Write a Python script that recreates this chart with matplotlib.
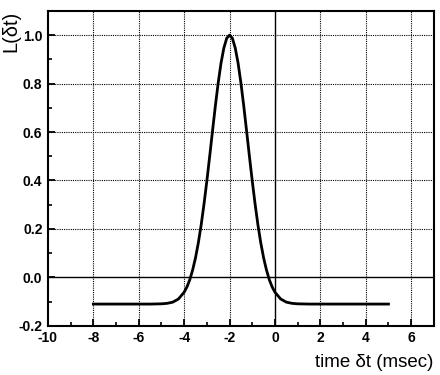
import numpy as np
import matplotlib
matplotlib.use("Agg")
from matplotlib import pyplot as plt
from matplotlib.ticker import MultipleLocator

# values
t = [-8.0, -7.0, -6.0, -5.5, -5.0, -4.75, -4.5, -4.25, -4.0, -3.875, -3.75,
     -3.625, -3.5, -3.375, -3.25, -3.125, -3.0, -2.875, -2.75, -2.625, -2.5,
     -2.375, -2.25, -2.125, -2.0, -1.875, -1.75, -1.625, -1.5, -1.375, -1.25,
     -1.125, -1.0, -0.875, -0.75, -0.625, -0.5, -0.375, -0.25, -0.125, 0.0,
     0.25, 0.5, 0.75, 1.0, 1.5, 2.0, 3.0, 4.0, 5.0]
L = [-0.11, -0.11, -0.11, -0.11, -0.109, -0.107, -0.102, -0.089, -0.061,
     -0.039, -0.009, 0.031, 0.081, 0.143, 0.217, 0.303, 0.398, 0.500, 0.605,
     0.708, 0.803, 0.885, 0.947, 0.987, 1.0, 0.987, 0.947, 0.885, 0.803,
     0.708, 0.605, 0.500, 0.398, 0.303, 0.217, 0.143, 0.081, 0.031, -0.009,
     -0.039, -0.061, -0.089, -0.102, -0.107, -0.109, -0.11, -0.11, -0.11,
     -0.11, -0.11]

xticks = [-10, -8, -6, -4, -2, 0, 2, 4, 6]
yticks = [-0.2, 0.0, 0.2, 0.4, 0.6, 0.8, 1.0]

fig = plt.figure(figsize=(4.4, 3.75), dpi=100)
ax = fig.add_axes([0.109, 0.131, 0.877, 0.840])

ax.set_xlim(-10, 7)
ax.set_ylim(-0.2, 1.1)

# grid: dotted, with solid lines through zero
for x in xticks[1:]:
    if x == 0:
        ax.axvline(x, color="black", lw=1.0)
    else:
        ax.axvline(x, color="black", lw=0.8, ls=(0, (1, 1)))
for y in yticks[1:]:
    if y == 0:
        ax.axhline(y, color="black", lw=1.0)
    else:
        ax.axhline(y, color="black", lw=0.8, ls=(0, (1, 1)))

ax.plot(t, L, color="black", lw=2.0)

ax.set_xticks(xticks)
ax.set_yticks(yticks)
ax.set_xticklabels([str(v) for v in xticks])
ax.set_yticklabels(["%.1f" % v for v in yticks])
ax.xaxis.set_minor_locator(MultipleLocator(1))
ax.yaxis.set_minor_locator(MultipleLocator(0.1))
ax.tick_params(which="major", direction="in", length=5, width=1.3,
               labelsize=10, pad=4)
ax.tick_params(which="minor", direction="in", length=3, width=1.2)
for lab in ax.get_xticklabels() + ax.get_yticklabels():
    lab.set_fontfamily("Liberation Sans")
    lab.set_fontweight("bold")
for s in ax.spines.values():
    s.set_linewidth(1.5)

fig.text(0.985, 0.01, "time δt (msec)", ha="right", va="bottom",
         fontsize=13.5, family="Liberation Sans")
fig.text(0.004, 0.862, "L(δt)", ha="left", va="bottom", rotation=90,
         fontsize=14.5, family="Liberation Sans")

fig.savefig("out.png", dpi=100)
